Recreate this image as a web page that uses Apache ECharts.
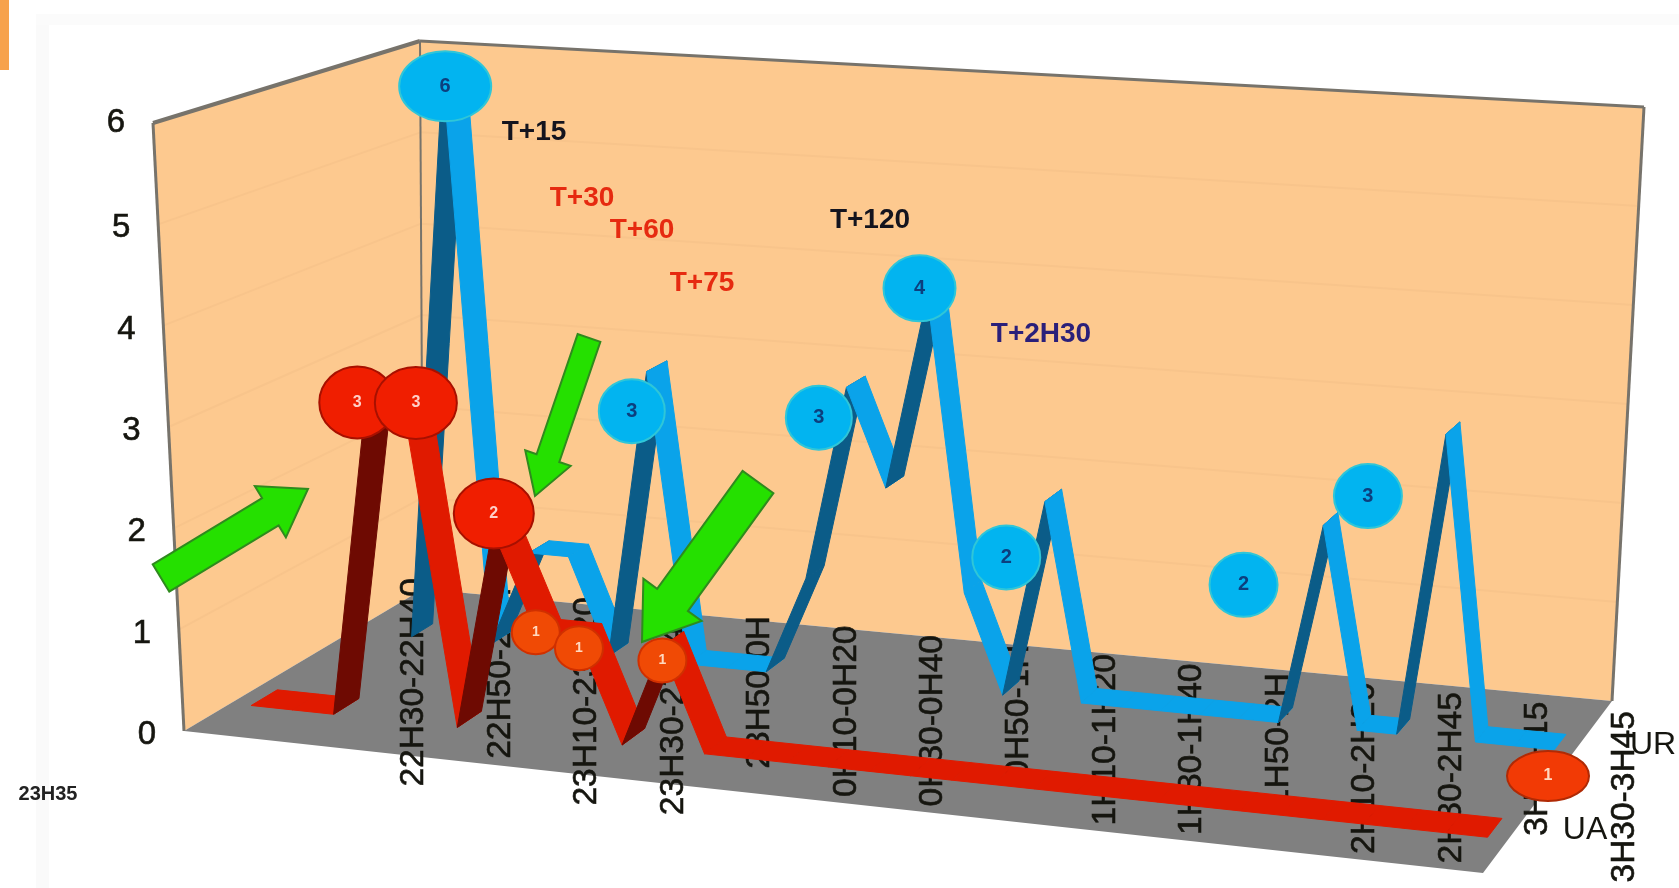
<!DOCTYPE html>
<html>
<head>
<meta charset="utf-8">
<style>html,body{margin:0;padding:0;background:#fff}#chart{width:1679px;height:888px}</style>
<script src="https://cdn.jsdelivr.net/npm/echarts@6/dist/echarts.min.js"></script>
</head>
<body>
<div id="chart"></div>
<script>
// Time slots along the floor; only every second one carries a printed label.
const categories = ['22H10-22H20','22H20-22H30','22H30-22H40','22H40-22H50','22H50-23H','23H-23H10','23H10-23H20','23H20-23H30',
  '23H30-23H40','23H40-23H50','23H50-0H','0H-0H10','0H10-0H20','0H20-0H30','0H30-0H40','0H40-0H50','0H50-1H','1H-1H10',
  '1H10-1H20','1H20-1H30','1H30-1H40','1H40-1H50','1H50-2H','2H-2H10','2H10-2H20','2H20-2H30','2H30-2H45','2H45-3H',
  '3H-3H15','3H15-3H30','3H30-3H45'];
const valueTicks = [0, 1, 2, 3, 4, 5, 6];
const seriesNames = ['UA', 'UR'];
const uaValues = [0,0,0,3,3,0,2,1,1,0,1,0,0,0,0,0,0,0,0,0,0,0,0,0,0,0,0,0,0,0,0];
const urValues = [null,0,6,0,1,1,0,3,0,0,0,1,3,2,4,1,0,2,0,0,0,0,0,0,2,0,0,3,0,0,0];
const noteTexts = ['T+15','T+30','T+60','T+75','T+120','T+2H30','23H35'];

// Grid rectangle: x gives the printed label columns, u/v fractions drive the box projection.
const GRID = {left: 304, top: 123, width: 1340, height: 608};
// Corners of the drawn box: f/b front/back, l/r left/right, 0/1 bottom/top.
const BOX = {
  fl0:[184,731], fl1:[153,123], fr0:[1483,873], fr1:[1487,214],
  bl0:[423,589], bl1:[420,41],  br0:[1612,701], br1:[1644,107]
};
const lerp = (a,b,t) => [a[0]+(b[0]-a[0])*t, a[1]+(b[1]-a[1])*t];
function project(u,v,d){
  const f = lerp(lerp(BOX.fl0,BOX.fr0,u), lerp(BOX.fl1,BOX.fr1,u), v);
  const b = lerp(lerp(BOX.bl0,BOX.br0,u), lerp(BOX.bl1,BOX.br1,u), v);
  return lerp(f,b,d);
}
function toBox(api,i,val,d){
  const c = api.coord([i,val]);
  return project((c[0]-GRID.left)/GRID.width, (GRID.top+GRID.height-c[1])/GRID.height, d);
}

const WALL='#FDC98F', FLOOR='#808080', EDGE='#77736B', GRIDLINE='#F8C48B', INK='#15150F';

// Walls, floor and the value scale.
function renderBox(params, api){
  if(params.dataIndex!==0) return;
  const poly=(pts,fill)=>({type:'polygon',shape:{points:pts},style:{fill}});
  const line=(a,b,stroke,w)=>({type:'line',shape:{x1:a[0],y1:a[1],x2:b[0],y2:b[1]},style:{stroke,lineWidth:w}});
  const kids=[
    poly([project(0,0,1),project(1,0,1),project(1,1,1),project(0,1,1)],WALL),
    poly([project(0,0,0),project(0,0,1),project(0,1,1),project(0,1,0)],WALL),
    poly([project(0,0,0),project(1,0,0),project(1,0,1),project(0,0,1)],FLOOR)
  ];
  valueTicks.slice(1,-1).forEach(t=>{
    const v=t/6;
    kids.push(line(project(0,v,0),project(0,v,1),GRIDLINE,2));
    kids.push(line(project(0,v,1),project(1,v,1),GRIDLINE,2));
  });
  kids.push(line(project(0,0,0),project(0,1,0),EDGE,3));
  kids.push(line(project(0,1,0),project(0,1,1),EDGE,4));
  kids.push(line(project(0,1,1),project(1,1,1),EDGE,3));
  kids.push(line(project(0,0,1),project(0,1,1),EDGE,2));
  kids.push(line(project(1,0,1),project(1,1,1),EDGE,3));
  valueTicks.forEach(t=>{
    const p=project(0,t/6,0);
    kids.push({type:'text',x:p[0]-37,y:p[1]+(t===6?0:4),style:{text:String(t),fill:INK,stroke:INK,lineWidth:0.6,
      font:'33px "Liberation Sans"',textAlign:'center',textVerticalAlign:'middle',align:'center',verticalAlign:'middle'}});
  });
  return {type:'group',children:kids};
}

// Upright slot names hung from a line that follows the back of the floor.
function renderSlotLabel(params, api){
  const i=api.value(0);
  if(i<2||i%2) return;
  const c=api.coord([i,0]);
  return {type:'text',x:c[0]+2,y:578+0.11*(c[0]-412),rotation:Math.PI/2,
    style:{text:categories[i],fill:INK,stroke:INK,lineWidth:0.6,font:'33.5px "Liberation Sans"',
      textAlign:'right',textVerticalAlign:'middle',align:'right',verticalAlign:'middle'}};
}

// One ribbon segment between two neighbouring slots; climbing faces sit in shade.
function ribbon(values,depth,half,lit,shade){
  return function(params,api){
    const i=api.value(0), a=values[i], b=values[i+1];
    if(a==null||b==null) return;
    const pts=[toBox(api,i,a,depth-half),toBox(api,i,a,depth+half),toBox(api,i+1,b,depth+half),toBox(api,i+1,b,depth-half)];
    return {type:'polygon',shape:{points:pts},style:{fill:b>a?shade:lit,stroke:b>a?shade:lit,lineWidth:1}};
  };
}

const UA_DEPTH=0.25, UR_DEPTH=0.75;

// Value bubbles hang off the point they describe.
const urBubbles=[
  {i:2,dx:-9,dy:19,rx:46,ry:35},{i:7,dx:-25,dy:45,rx:33,ry:32},{i:12,dx:-37,dy:36,rx:33,ry:32},
  {i:14,dx:-17,dy:-2,rx:36,ry:33},{i:17,dx:-47,dy:62,rx:34,ry:32},{i:24,dx:-87,dy:66,rx:34,ry:32},{i:27,dx:-85,dy:68,rx:34,ry:32}
];
const uaBubbles=[
  {i:3,dx:-20,dy:-9,rx:38,ry:36,big:1},{i:4,dx:-3,dy:-12,rx:41,ry:36,big:1},{i:6,dx:-11,dy:-9,rx:40,ry:35,big:1},
  {i:7,dx:-13,dy:5,rx:24,ry:22},{i:8,dx:-11,dy:17,rx:24,ry:22},{i:10,dx:-10,dy:21,rx:24,ry:22}
];
function bubble(values,list,depth,style){
  return function(params,api){
    const b=list[api.value(0)];
    const p=toBox(api,b.i,values[b.i],depth);
    const x=p[0]+b.dx,y=p[1]+b.dy;
    const s=style(b);
    return {type:'group',children:[
      {type:'ellipse',shape:{cx:x,cy:y,rx:b.rx,ry:b.ry},style:{fill:s.fill,stroke:s.stroke,lineWidth:2}},
      {type:'text',x,y,style:{text:String(values[b.i]),fill:s.text,font:'bold '+s.size+'px "Liberation Sans"',
        textAlign:'center',textVerticalAlign:'middle',align:'center',verticalAlign:'middle'}}
    ]};
  };
}

// Green pointers laid over the plot.
const pointers=[
  {tail:[161,578],tip:[308,489],shaft:16,headLen:44,head:30},
  {tail:[589,338],tip:[535,496],shaft:12,headLen:40,head:24},
  {tail:[758,482],tip:[642,642],shaft:19,headLen:52,head:36}
];
function renderPointer(params,api){
  const a=pointers[api.value(0)];
  const dx=a.tip[0]-a.tail[0],dy=a.tip[1]-a.tail[1],L=Math.hypot(dx,dy),ux=dx/L,uy=dy/L,nx=-uy,ny=ux;
  const nk=[a.tip[0]-ux*a.headLen,a.tip[1]-uy*a.headLen];
  const pts=[
    [a.tail[0]+nx*a.shaft,a.tail[1]+ny*a.shaft],[nk[0]+nx*a.shaft,nk[1]+ny*a.shaft],
    [nk[0]+nx*a.head,nk[1]+ny*a.head],a.tip,
    [nk[0]-nx*a.head,nk[1]-ny*a.head],[nk[0]-nx*a.shaft,nk[1]-ny*a.shaft],
    [a.tail[0]-nx*a.shaft,a.tail[1]-ny*a.shaft]];
  return {type:'polygon',shape:{points:pts},style:{fill:'#25E000',stroke:'#2F8A1E',lineWidth:2}};
}

const slots=categories.map((_,i)=>[i,0]);
const layer=(name,z,renderItem,data)=>({type:'custom',name,z,renderItem,data:data||slots,silent:true,clip:false,animation:false});
const note=(text,x,y,fill,size)=>({type:'text',x,y,z:20,style:{text,fill,font:'bold '+size+'px "Liberation Sans"',textAlign:'center',textVerticalAlign:'middle',align:'center',verticalAlign:'middle'}});
const plain=(text,x,y)=>({type:'text',x,y,z:20,style:{text,fill:INK,font:'32px "Liberation Sans"',textAlign:'center',textVerticalAlign:'middle',align:'center',verticalAlign:'middle'}});

const chart=echarts.init(document.getElementById('chart'),null,{renderer:'canvas'});
chart.setOption({
  animation:false,
  backgroundColor:'#fff',
  grid:Object.assign({},GRID),
  xAxis:{type:'category',data:categories,show:false},
  yAxis:{type:'value',min:0,max:6,interval:1,show:false},
  graphic:[
    {type:'rect',z:0,shape:{x:0,y:0,width:9,height:70},style:{fill:'#F7A24C'}},
    {type:'rect',z:0,shape:{x:36,y:18,width:13,height:870},style:{fill:'#FAFAFA'}},
    {type:'rect',z:0,shape:{x:36,y:14,width:1643,height:11},style:{fill:'#FBFBFB'}},
    note(noteTexts[0],534,132,'#14141E',28),
    note(noteTexts[1],582,198,'#E62A10',28),
    note(noteTexts[2],642,230,'#E62A10',28),
    note(noteTexts[3],702,283,'#E62A10',28),
    note(noteTexts[4],870,220,'#14141E',28),
    note(noteTexts[5],1041,334,'#2A1F7A',28),
    note(noteTexts[6],48,794,'#222',20),
    plain(seriesNames[1],1653,745),
    plain(seriesNames[0],1585,830),
    {type:'ellipse',z:20,shape:{cx:1548,cy:776,rx:41,ry:25},style:{fill:'#F23A05',stroke:'#B02A05',lineWidth:2}},
    {type:'text',z:21,x:1548,y:776,style:{text:'1',fill:'#FFD9C0',font:'bold 16px "Liberation Sans"',textAlign:'center',textVerticalAlign:'middle',align:'center',verticalAlign:'middle'}}
  ],
  series:[
    layer('box',1,renderBox),
    layer('slot names',2,renderSlotLabel),
    layer(seriesNames[1],3,ribbon(urValues,UR_DEPTH,0.045,'#0AA3EA','#0B5C88')),
    layer(seriesNames[0],4,ribbon(uaValues,UA_DEPTH,0.055,'#E01A00','#6E0A02')),
    layer('UR values',5,bubble(urValues,urBubbles,UR_DEPTH,()=>({fill:'#02B4F0',stroke:'#2FC6D8',text:'#0C3F7E',size:20})),urBubbles.map((_,i)=>[i,0])),
    layer('pointers',6,renderPointer,pointers.map((_,i)=>[i,0])),
    layer('UA values',7,bubble(uaValues,uaBubbles,UA_DEPTH,b=>b.big?({fill:'#F01E00',stroke:'#A81000',text:'#FFD0C8',size:16}):({fill:'#F04A05',stroke:'#D03000',text:'#FFD9C0',size:14})),uaBubbles.map((_,i)=>[i,0]))
  ]
});
</script>
</body>
</html>
